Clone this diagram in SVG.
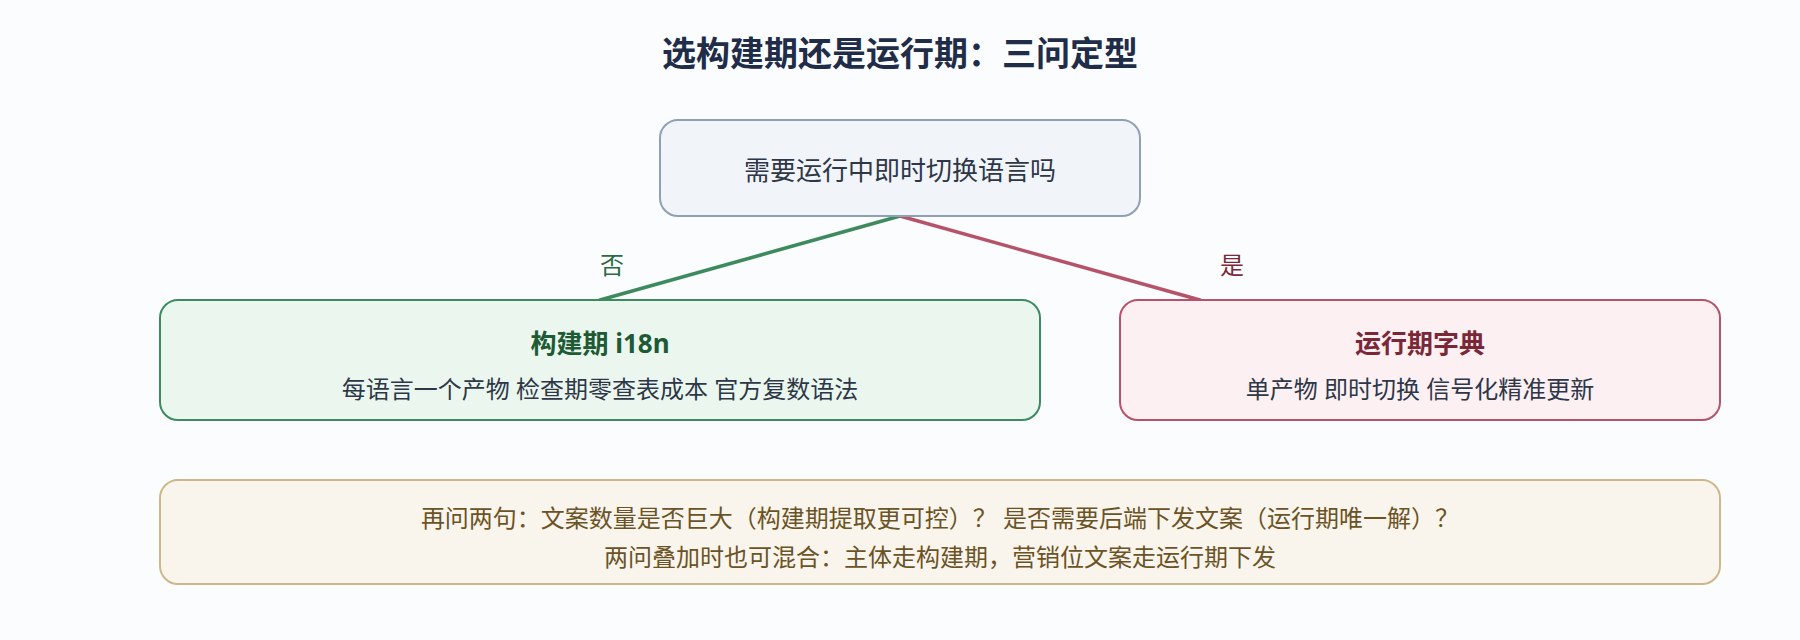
<svg xmlns="http://www.w3.org/2000/svg" width="1800" height="640" viewBox="0 0 1800 640">
<style>
text{font-family:"Noto Sans","Noto Sans CJK SC",sans-serif;text-anchor:middle;dominant-baseline:central}
.title{font-size:34px;font-weight:700;fill:#1f2d48}
.q{font-size:26px;fill:#2d3748}
.h{font-size:26px;font-weight:700}
.sub{font-size:24px;fill:#2d3748}
.lbl{font-size:24px}
.note{font-size:24px;fill:#6b5326}
.conn{fill:none;stroke-width:3.5;stroke-linecap:round}
</style>
<rect width="1800" height="640" fill="#fbfcfd"/>
<text class="title" x="900" y="53">选构建期还是运行期：三问定型</text>
<g id="connectors">
<line class="conn" x1="900" y1="216" x2="600" y2="300" stroke="#3d8a5f"/>
<line class="conn" x1="900" y1="216" x2="1200" y2="300" stroke="#b5536b"/>
<text class="lbl" x="612" y="264" fill="#2a6b44">否</text>
<text class="lbl" x="1232" y="264" fill="#7a2838">是</text>
</g>
<g id="q">
<rect x="660" y="120" width="480" height="96" rx="18" fill="#f1f4f8" stroke="#8fa0b5" stroke-width="2"/>
<text class="q" x="900" y="170">需要运行中即时切换语言吗</text>
</g>
<g id="build">
<rect x="160" y="300" width="880" height="120" rx="18" fill="#ebf7ee" stroke="#3d8a5f" stroke-width="2"/>
<text class="h" x="600" y="343" fill="#1e5a34">构建期 i18n</text>
<text class="sub" x="600" y="388">每语言一个产物 检查期零查表成本 官方复数语法</text>
</g>
<g id="runtime">
<rect x="1120" y="300" width="600" height="120" rx="18" fill="#fdf0f2" stroke="#b5536b" stroke-width="2"/>
<text class="h" x="1420" y="343" fill="#7a2838">运行期字典</text>
<text class="sub" x="1420" y="388">单产物 即时切换 信号化精准更新</text>
</g>
<g id="note">
<rect x="160" y="480" width="1560" height="104" rx="18" fill="#f9f5ec" stroke="#cdb88a" stroke-width="2"/>
<text class="note" x="940" y="517">再问两句：文案数量是否巨大（构建期提取更可控）？ 是否需要后端下发文案（运行期唯一解）？</text>
<text class="note" x="940" y="556">两问叠加时也可混合：主体走构建期，营销位文案走运行期下发</text>
</g>
</svg>
